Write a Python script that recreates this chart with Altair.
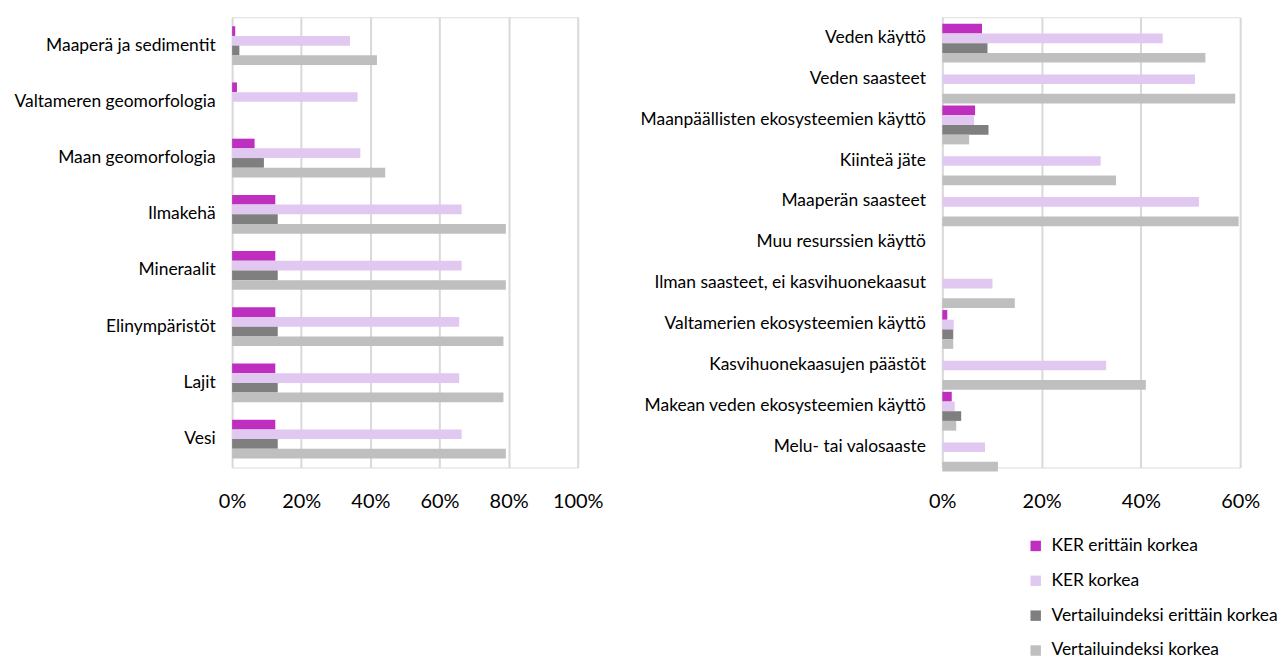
import altair as alt
import pandas as pd

series = ["KER erittäin korkea", "KER korkea", "Vertailuindeksi erittäin korkea", "Vertailuindeksi korkea"]
colors = ["#BF2FBF", "#E1C8F0", "#7F7F7F", "#BFBFBF"]

left_cats = ["Maaperä ja sedimentit", "Valtameren geomorfologia", "Maan geomorfologia", "Ilmakehä",
             "Mineraalit", "Elinympäristöt", "Lajit", "Vesi"]
left_ker_vh = [0.009, 0.014, 0.065, 0.125, 0.125, 0.125, 0.125, 0.125]
left_ker_h = [0.341, 0.363, 0.371, 0.664, 0.664, 0.657, 0.657, 0.664]
left_ref_vh = [0.021, 0.0, 0.092, 0.132, 0.132, 0.132, 0.132, 0.132]
left_ref_h = [0.419, 0.0, 0.443, 0.792, 0.792, 0.785, 0.785, 0.792]

right_cats = ["Veden käyttö", "Veden saasteet", "Maanpäällisten ekosysteemien käyttö", "Kiinteä jäte",
              "Maaperän saasteet", "Muu resurssien käyttö", "Ilman saasteet, ei kasvihuonekaasut",
              "Valtamerien ekosysteemien käyttö", "Kasvihuonekaasujen päästöt",
              "Makean veden ekosysteemien käyttö", "Melu- tai valosaaste"]
right_ker_vh = [0.080, 0.0, 0.066, 0.0, 0.0, 0.0, 0.0, 0.010, 0.0, 0.019, 0.0]
right_ker_h = [0.444, 0.509, 0.064, 0.319, 0.517, 0.0, 0.101, 0.023, 0.330, 0.025, 0.086]
right_ref_vh = [0.091, 0.0, 0.093, 0.0, 0.0, 0.0, 0.0, 0.022, 0.0, 0.038, 0.0]
right_ref_h = [0.530, 0.590, 0.054, 0.350, 0.597, 0.0, 0.146, 0.022, 0.410, 0.028, 0.112]


def build(cats, cols):
    rows = []
    for i, c in enumerate(cats):
        for s, vals in zip(series, cols):
            rows.append({"cat": c, "series": s, "value": vals[i]})
    return pd.DataFrame(rows)


df_left = build(left_cats, [left_ker_vh, left_ker_h, left_ref_vh, left_ref_h])
df_right = build(right_cats, [right_ker_vh, right_ker_h, right_ref_vh, right_ref_h])

FONT = "Lato"


def panel(df, cats, domain, ticks, width, legend):
    return alt.Chart(df).mark_bar().encode(
        y=alt.Y("cat:N", sort=cats, title=None,
                scale=alt.Scale(paddingInner=0.31, paddingOuter=0.16),
                axis=alt.Axis(labelFontSize=17.5, labelColor="#000000", labelPadding=17,
                              ticks=False, domain=False, labelLimit=400, labelFont=FONT)),
        yOffset=alt.YOffset("series:N", sort=series, scale=alt.Scale(paddingInner=0, paddingOuter=0)),
        x=alt.X("value:Q", title=None,
                scale=alt.Scale(domain=domain, nice=False),
                axis=alt.Axis(values=ticks, format=".0%", labelFontSize=20, labelColor="#000000",
                              labelPadding=24, ticks=False, domain=False, grid=True,
                              labelFlush=False, labelOverlap=False,
                              gridColor="#D9D9D9", gridWidth=2, labelFont=FONT)),
        color=alt.Color("series:N", sort=series,
                        scale=alt.Scale(domain=series, range=colors),
                        legend=legend),
    ).properties(width=width, height=452)


left = panel(df_left, left_cats, [0, 1], [0, 0.2, 0.4, 0.6, 0.8, 1.0], 347, None)
right = panel(df_right, right_cats, [0, 0.6], [0, 0.2, 0.4, 0.6], 299,
              alt.Legend(title=None, orient="none", legendX=85, legendY=522,
                         symbolType="square", symbolSize=110, symbolStrokeWidth=0,
                         labelFontSize=17.5, labelFont=FONT, labelColor="#000000",
                         rowPadding=16, labelOffset=7, labelLimit=400))

chart = alt.hconcat(left, right, spacing=35).resolve_scale(color="independent").properties(
    padding={"left": 5, "top": 7, "right": 0, "bottom": 5}
).configure_view(stroke=None).configure(font=FONT)

chart.save("out.html", embed_options={"renderer": "svg", "actions": False})
